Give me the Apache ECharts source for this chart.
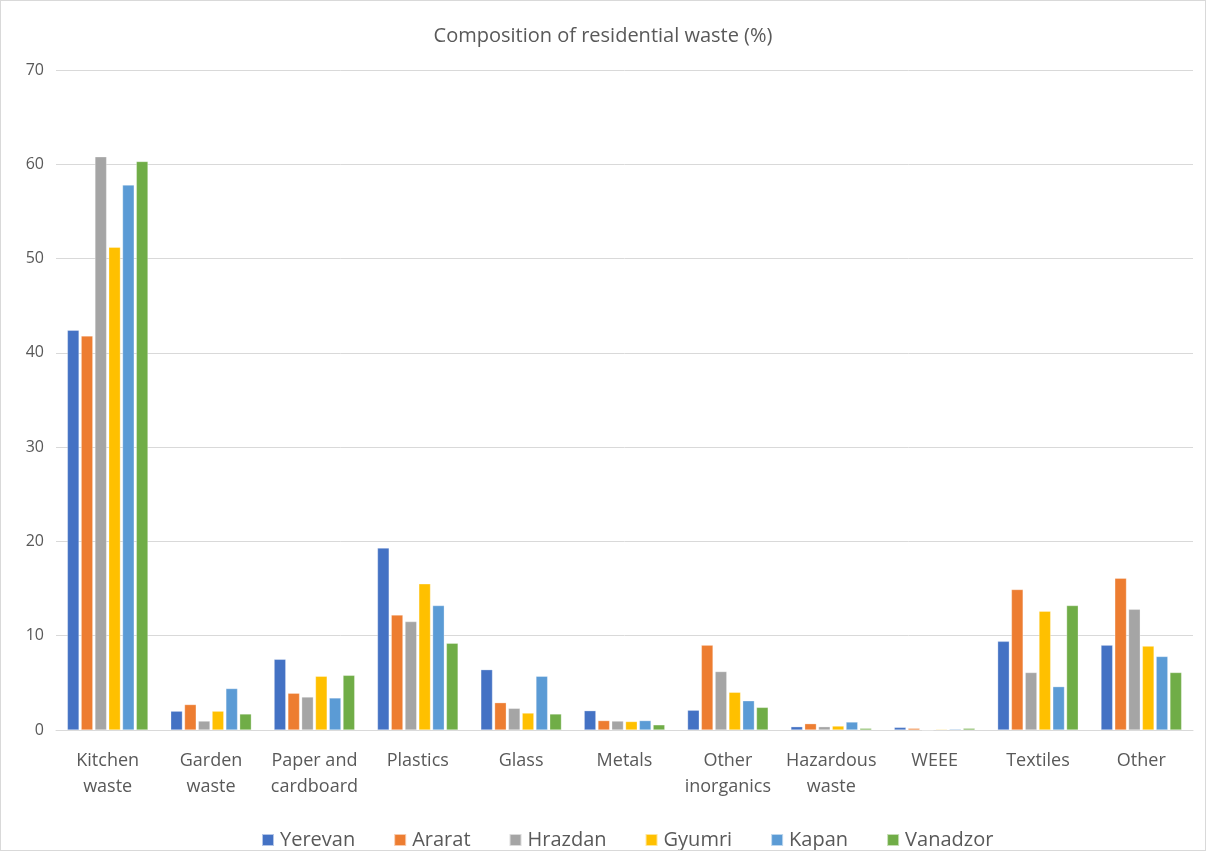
<!DOCTYPE html>
<html>
<head>
<meta charset="utf-8">
<script src="https://cdn.jsdelivr.net/npm/echarts@6/dist/echarts.min.js"></script>
<style>
  html, body { margin: 0; padding: 0; background: #fff; }
  #chart { width: 1204px; height: 849px; border: 1px solid #d9d9d9; }
</style>
</head>
<body>
<div id="chart"></div>
<script>
// Waste categories (x axis)
const categories = ['Kitchen\nwaste', 'Garden\nwaste', 'Paper and\ncardboard', 'Plastics', 'Glass', 'Metals',
  'Other\ninorganics', 'Hazardous\nwaste', 'WEEE', 'Textiles', 'Other'];

// Share of each category in residential waste, per city (%)
const yerevan  = [42.4, 2.0, 7.5, 19.3, 6.4, 2.05, 2.1, 0.35, 0.28, 9.4, 9.0];
const ararat   = [41.8, 2.7, 3.9, 12.2, 2.9, 1.0, 9.0, 0.67, 0.18, 14.9, 16.1];
const hrazdan  = [60.8, 0.95, 3.5, 11.5, 2.3, 0.95, 6.2, 0.35, 0, 6.1, 12.8];
const gyumri   = [51.2, 2.0, 5.7, 15.5, 1.8, 0.9, 4.0, 0.42, 0.08, 12.6, 8.9];
const kapan    = [57.8, 4.4, 3.4, 13.2, 5.7, 1.0, 3.1, 0.85, 0.1, 4.6, 7.8];
const vanadzor = [60.3, 1.7, 5.8, 9.2, 1.7, 0.55, 2.4, 0.18, 0.18, 13.2, 6.1];

const cities = ['Yerevan', 'Ararat', 'Hrazdan', 'Gyumri', 'Kapan', 'Vanadzor'];
const cityValues = [yerevan, ararat, hrazdan, gyumri, kapan, vanadzor];
const palette = ['#4472C4', '#ED7D31', '#A5A5A5', '#FFC000', '#5B9BD5', '#70AD47'];

const font = 'Open Sans';
const textColor = '#595959';

const chart = echarts.init(document.getElementById('chart'));
chart.setOption({
  animation: false,
  color: palette,
  title: {
    text: 'Composition of residential waste (%)',
    left: 'center',
    top: 20,
    textStyle: { fontFamily: font, fontSize: 20, fontWeight: 'normal', color: textColor }
  },
  legend: {
    top: 824,
    left: 255,
    itemWidth: 12,
    itemHeight: 12,
    itemGap: 38,
    icon: 'rect',
    textStyle: { fontFamily: font, fontSize: 20, color: textColor, padding: [0, 0, 0, 1] }
  },
  grid: { left: 55, right: 12, top: 69, bottom: 120, containLabel: false },
  xAxis: {
    type: 'category',
    data: categories,
    axisLine: { show: true, lineStyle: { color: '#d9d9d9', width: 1 } },
    axisTick: { show: false },
    axisLabel: { fontFamily: font, fontSize: 18, color: textColor, margin: 18, lineHeight: 26, interval: 0 }
  },
  yAxis: {
    type: 'value',
    min: 0,
    max: 70,
    interval: 10,
    axisLine: { show: false },
    axisTick: { show: false },
    axisLabel: { fontFamily: font, fontSize: 16, color: textColor, margin: 12 },
    splitLine: { lineStyle: { color: '#d9d9d9', width: 1 } }
  },
  series: cities.map((name, i) => ({
    name,
    type: 'bar',
    data: cityValues[i],
    barGap: '18%',
    barCategoryGap: '22%',
    itemStyle: { borderColor: 'rgba(255,255,255,0.6)', borderWidth: 0.5 }
  }))
});
</script>
</body>
</html>
